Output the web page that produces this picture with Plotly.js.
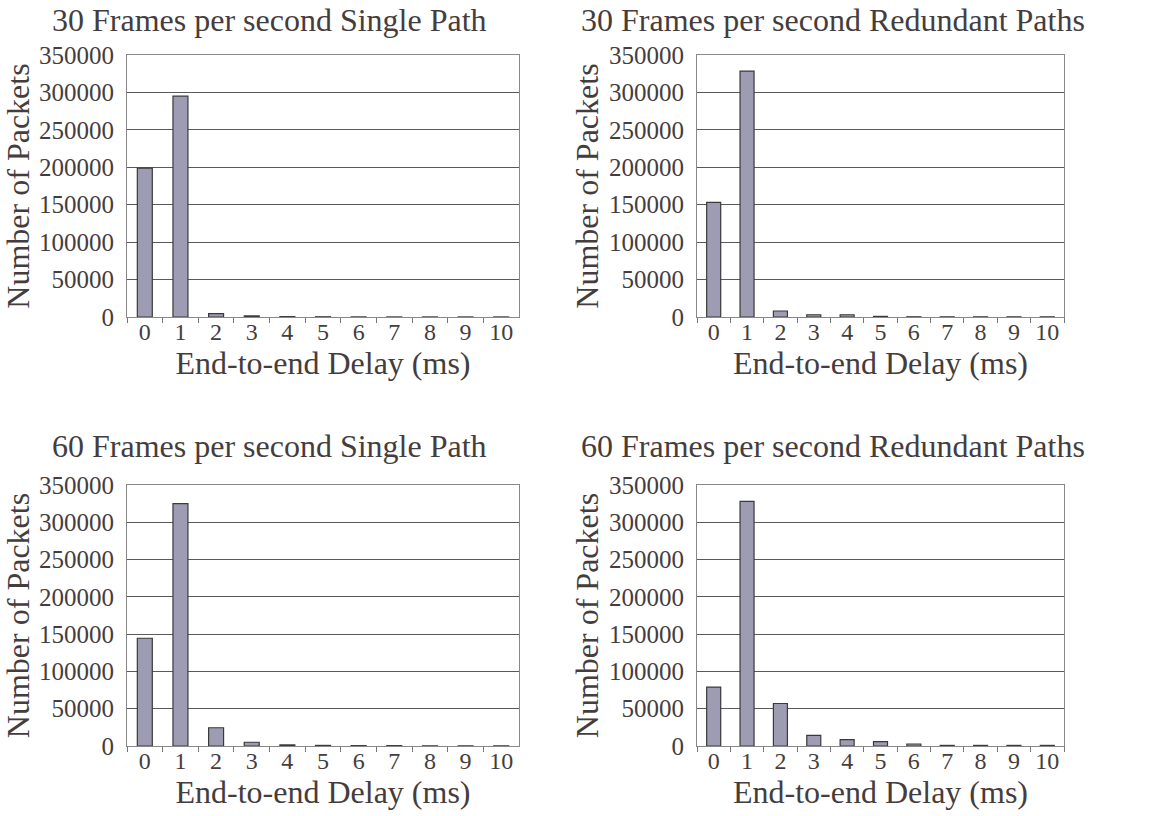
<!DOCTYPE html>
<html>
<head>
<meta charset="utf-8">
<script src="https://cdn.plot.ly/plotly-3.0.1.min.js"></script>
<style>
html,body{margin:0;padding:0;background:#fff;font-family:'Liberation Serif',serif;}
#chart{width:1157px;height:816px;}
</style>
</head>
<body>
<div id="chart"></div>
<script>
const delays = ["0","1","2","3","4","5","6","7","8","9","10"];
const fps30Single    = [199000, 295000, 4500, 1500, 500, 300, 150, 100, 100, 100, 100];
const fps30Redundant = [153000, 328500, 8000, 3000, 3000, 800, 300, 200, 200, 200, 200];
const fps60Single    = [144500, 325000, 24500, 5000, 1500, 800, 500, 500, 200, 200, 200];
const fps60Redundant = [79000, 328000, 57000, 14300, 8500, 5800, 2700, 800, 800, 800, 800];
const titles = ["30 Frames per second Single Path", "30 Frames per second Redundant Paths",
                "60 Frames per second Single Path", "60 Frames per second Redundant Paths"];
const yTickVals = [0, 50000, 100000, 150000, 200000, 250000, 300000, 350000];
const xTitle = "End-to-end Delay (ms)";
const yTitle = "Number of Packets";

const W = 1157, H = 816;
const series = [fps30Single, fps30Redundant, fps60Single, fps60Redundant];
const boxes = [[127, 519, 55, 317], [697, 1064, 55, 317], [127, 519, 485, 746], [697, 1064, 485, 746]];
const titlePos = [[269, 20], [833, 20], [269, 446], [833, 446]];
const font = "Liberation Serif";
const txt = "#453d3d";

const data = [];
const layout = {
  width: W, height: H, margin: {l: 0, r: 0, t: 0, b: 0},
  paper_bgcolor: "#fff", plot_bgcolor: "#fff", showlegend: false,
  font: {family: font, color: txt}, bargap: 0.58, annotations: []
};

series.forEach((vals, i) => {
  const n = i + 1;
  const b = boxes[i];
  const sfx = n === 1 ? "" : String(n);
  data.push({
    type: "bar", x: delays, y: vals,
    xaxis: "x" + sfx, yaxis: "y" + sfx,
    marker: {color: "#9e9cb3", line: {color: "#3a3a3a", width: 1.2}},
    hoverinfo: "x+y"
  });
  layout["xaxis" + sfx] = {
    domain: [b[0] / W, b[1] / W], anchor: "y" + sfx,
    type: "category", range: [-0.5, 10.5], tickson: "boundaries",
    ticks: "outside", ticklen: 5, tickcolor: "#777", tickwidth: 1,
    tickangle: 0, automargin: false, ticklabelstandoff: -7,
    showline: true, linecolor: "#888", linewidth: 1, mirror: true,
    showgrid: false, zeroline: false,
    tickfont: {family: font, size: 24, color: txt},
    title: {text: xTitle, font: {family: font, size: 32, color: txt}, standoff: 0}
  };
  layout["yaxis" + sfx] = {
    domain: [1 - b[3] / H, 1 - b[2] / H], anchor: "x" + sfx,
    range: [0, 350000], tickvals: yTickVals, ticktext: yTickVals.map(String),
    ticks: "", ticklabelstandoff: 7, automargin: false,
    showline: true, linecolor: "#888", linewidth: 1, mirror: true,
    showgrid: true, gridcolor: "#5a5a5a", gridwidth: 1, zeroline: false,
    tickfont: {family: font, size: 25, color: txt},
    title: {text: yTitle, font: {family: font, size: 32, color: txt}, standoff: n % 2 === 0 ? 0 : 2}
  };
  layout.annotations.push({
    text: titles[i], xref: "paper", yref: "paper",
    x: titlePos[i][0] / W, y: 1 - titlePos[i][1] / H,
    xanchor: "center", yanchor: "middle", showarrow: false,
    font: {family: font, size: 32, color: txt}
  });
});

Plotly.newPlot("chart", data, layout, {displayModeBar: false, staticPlot: true});
</script>
</body>
</html>
